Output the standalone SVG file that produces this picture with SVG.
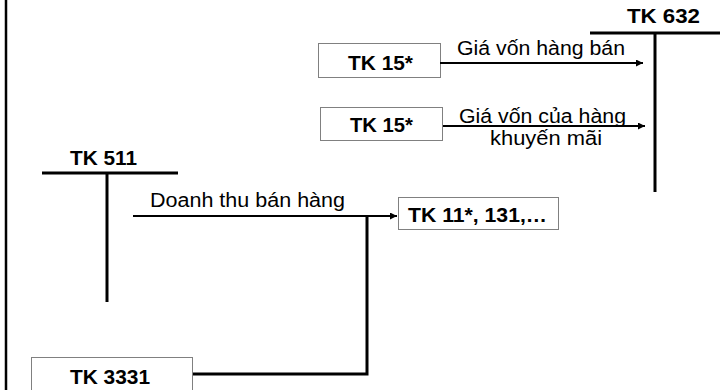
<svg xmlns="http://www.w3.org/2000/svg" width="720" height="390" viewBox="0 0 720 390">
  <defs>
    <marker id="arrow" viewBox="0 0 10 10" refX="10" refY="5" markerWidth="7" markerHeight="7" markerUnits="userSpaceOnUse" orient="auto">
      <path d="M0,0 L10,5 L0,10 z" fill="#000"/>
    </marker>
  </defs>
  <style>
    .box { fill: #fff; stroke: #808080; stroke-width: 1; }
    .acc { font-family: "Liberation Sans", Arial, sans-serif; font-weight: bold; font-size: 20px; fill: #000; text-anchor: middle; }
    .lbl { font-family: "Liberation Sans", Arial, sans-serif; font-size: 20px; fill: #000; text-anchor: middle; }
    .t { stroke: #000; stroke-width: 3; fill: none; }
    .flow { stroke: #000; stroke-width: 2; fill: none; }
  </style>

  <!-- frame edge -->
  <line x1="6" y1="0" x2="6" y2="390" stroke="#000" stroke-width="2.5"/>

  <!-- T-accounts -->
  <g id="tk632">
    <text class="acc" x="663.5" y="23" textLength="73" lengthAdjust="spacingAndGlyphs">TK 632</text>
    <line class="t" x1="590" y1="33" x2="720" y2="33"/>
    <line class="t" x1="655" y1="33" x2="655" y2="192"/>
  </g>
  <g id="tk511">
    <text class="acc" x="103.5" y="165" textLength="67" lengthAdjust="spacingAndGlyphs">TK 511</text>
    <line class="t" x1="42" y1="173" x2="178" y2="173"/>
    <line class="t" x1="107" y1="173" x2="107" y2="302"/>
  </g>

  <!-- boxed accounts -->
  <g id="tk15a">
    <rect class="box" x="318.5" y="43.5" width="122" height="34"/>
    <text class="acc" x="380.5" y="70" textLength="65" lengthAdjust="spacingAndGlyphs">TK 15*</text>
  </g>
  <g id="tk15b">
    <rect class="box" x="320.5" y="107.5" width="122" height="33"/>
    <text class="acc" x="381.5" y="132" textLength="63" lengthAdjust="spacingAndGlyphs">TK 15*</text>
  </g>
  <g id="tk11">
    <rect class="box" x="398.5" y="197.5" width="160" height="32"/>
    <text class="acc" x="477.5" y="222" textLength="139" lengthAdjust="spacingAndGlyphs">TK 11*, 131,…</text>
  </g>
  <g id="tk3331">
    <rect class="box" x="31.5" y="357.5" width="161" height="40"/>
    <text class="acc" x="110" y="384" textLength="80" lengthAdjust="spacingAndGlyphs">TK 3331</text>
  </g>

  <!-- connectors -->
  <g id="connectors">
    <line class="flow" x1="440" y1="63" x2="643" y2="63" marker-end="url(#arrow)"/>
    <line class="flow" x1="443" y1="126" x2="645" y2="126" marker-end="url(#arrow)"/>
    <line class="flow" x1="133" y1="216" x2="397" y2="216" marker-end="url(#arrow)"/>
    <polyline class="t" points="193,374 367,374 367,216"/>
  </g>

  <!-- connector labels -->
  <g id="labels">
    <text class="lbl" x="541" y="55" textLength="168" lengthAdjust="spacingAndGlyphs">Giá vốn hàng bán</text>
    <text class="lbl" x="542.5" y="123" textLength="167" lengthAdjust="spacingAndGlyphs">Giá vốn của hàng</text>
    <text class="lbl" x="546" y="145" textLength="112" lengthAdjust="spacingAndGlyphs">khuyến mãi</text>
    <text class="lbl" x="247.5" y="207" textLength="195" lengthAdjust="spacingAndGlyphs">Doanh thu bán hàng</text>
  </g>
</svg>
